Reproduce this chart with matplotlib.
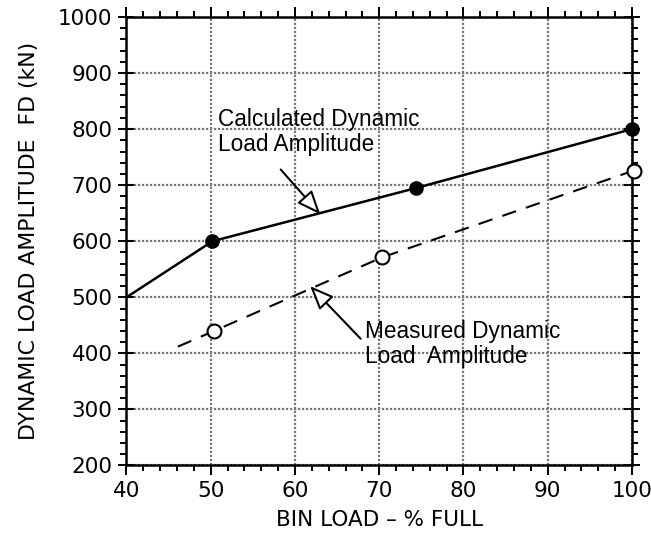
import matplotlib
matplotlib.use('Agg')
import matplotlib.pyplot as plt
from matplotlib.ticker import MultipleLocator

# Calculated dynamic load amplitude (solid line, filled markers)
calc_line_x = [40, 50.2, 74.4, 100]
calc_line_y = [500, 600, 695, 800]
calc_pts_x = [50.2, 74.4, 100]
calc_pts_y = [600, 695, 800]

# Measured dynamic load amplitude (dashed line, open markers)
meas_line_x = [46.1, 50.4, 70.3, 100.2]
meas_line_y = [412, 440, 571, 726]
meas_pts_x = [50.4, 70.3, 100.2]
meas_pts_y = [440, 571, 726]

fig = plt.figure(figsize=(6.51, 5.34), dpi=100)
ax = fig.add_axes([0.1943, 0.1283, 0.7765, 0.8399])

ax.plot(calc_line_x, calc_line_y, color='black', lw=1.8, zorder=3)
ax.plot(calc_pts_x, calc_pts_y, 'o', color='black', ms=9.5, zorder=4, clip_on=False)

ax.plot(meas_line_x, meas_line_y, color='black', lw=1.5, dashes=(7, 5), zorder=3,
        clip_on=False)
ax.plot(meas_pts_x, meas_pts_y, 'o', mfc='white', mec='black', mew=1.5, ms=10,
        zorder=4, clip_on=False)

ax.set_xlim(40, 100)
ax.set_ylim(200, 1000)
ax.xaxis.set_major_locator(MultipleLocator(10))
ax.xaxis.set_minor_locator(MultipleLocator(2))
ax.yaxis.set_major_locator(MultipleLocator(100))
ax.yaxis.set_minor_locator(MultipleLocator(20))

ax.grid(True, which='major', color='#777777', linestyle=(0, (1, 0.8)), lw=1.6)
ax.set_axisbelow(True)

for s in ax.spines.values():
    s.set_linewidth(1.8)

ax.tick_params(which='both', top=True, right=True, direction='out', width=1.4,
               labelsize=15.5, pad=4)
ax.tick_params(which='major', length=7)
ax.tick_params(which='minor', length=4)
ax.tick_params(axis='y', which='major', direction='inout', length=12)

for lab in ax.get_xticklabels() + ax.get_yticklabels():
    lab.set_fontfamily('DejaVu Sans')

ax.set_xlabel('BIN LOAD \u2013 % FULL', fontsize=15.5, family='DejaVu Sans', labelpad=7)
ax.set_ylabel('DYNAMIC LOAD AMPLITUDE  FD (kN)', fontsize=15.8, family='DejaVu Sans',
              labelpad=14)

arrow = dict(arrowstyle='-|>,head_length=1.45,head_width=0.6', fc='white', ec='black',
             lw=1.5, shrinkA=0, shrinkB=0)
ax.annotate('', xy=(63.0, 648), xytext=(58.3, 728), arrowprops=arrow)
ax.annotate('', xy=(61.8, 520), xytext=(67.8, 426), arrowprops=arrow)

ax.text(50.9, 838, 'Calculated Dynamic\nLoad Amplitude', fontsize=16.3,
        family='Liberation Sans', va='top', ha='left', linespacing=1.1)
ax.text(68.3, 460, 'Measured Dynamic\nLoad  Amplitude', fontsize=16.3,
        family='Liberation Sans', va='top', ha='left', linespacing=1.1)

fig.savefig('out.png', dpi=100)
